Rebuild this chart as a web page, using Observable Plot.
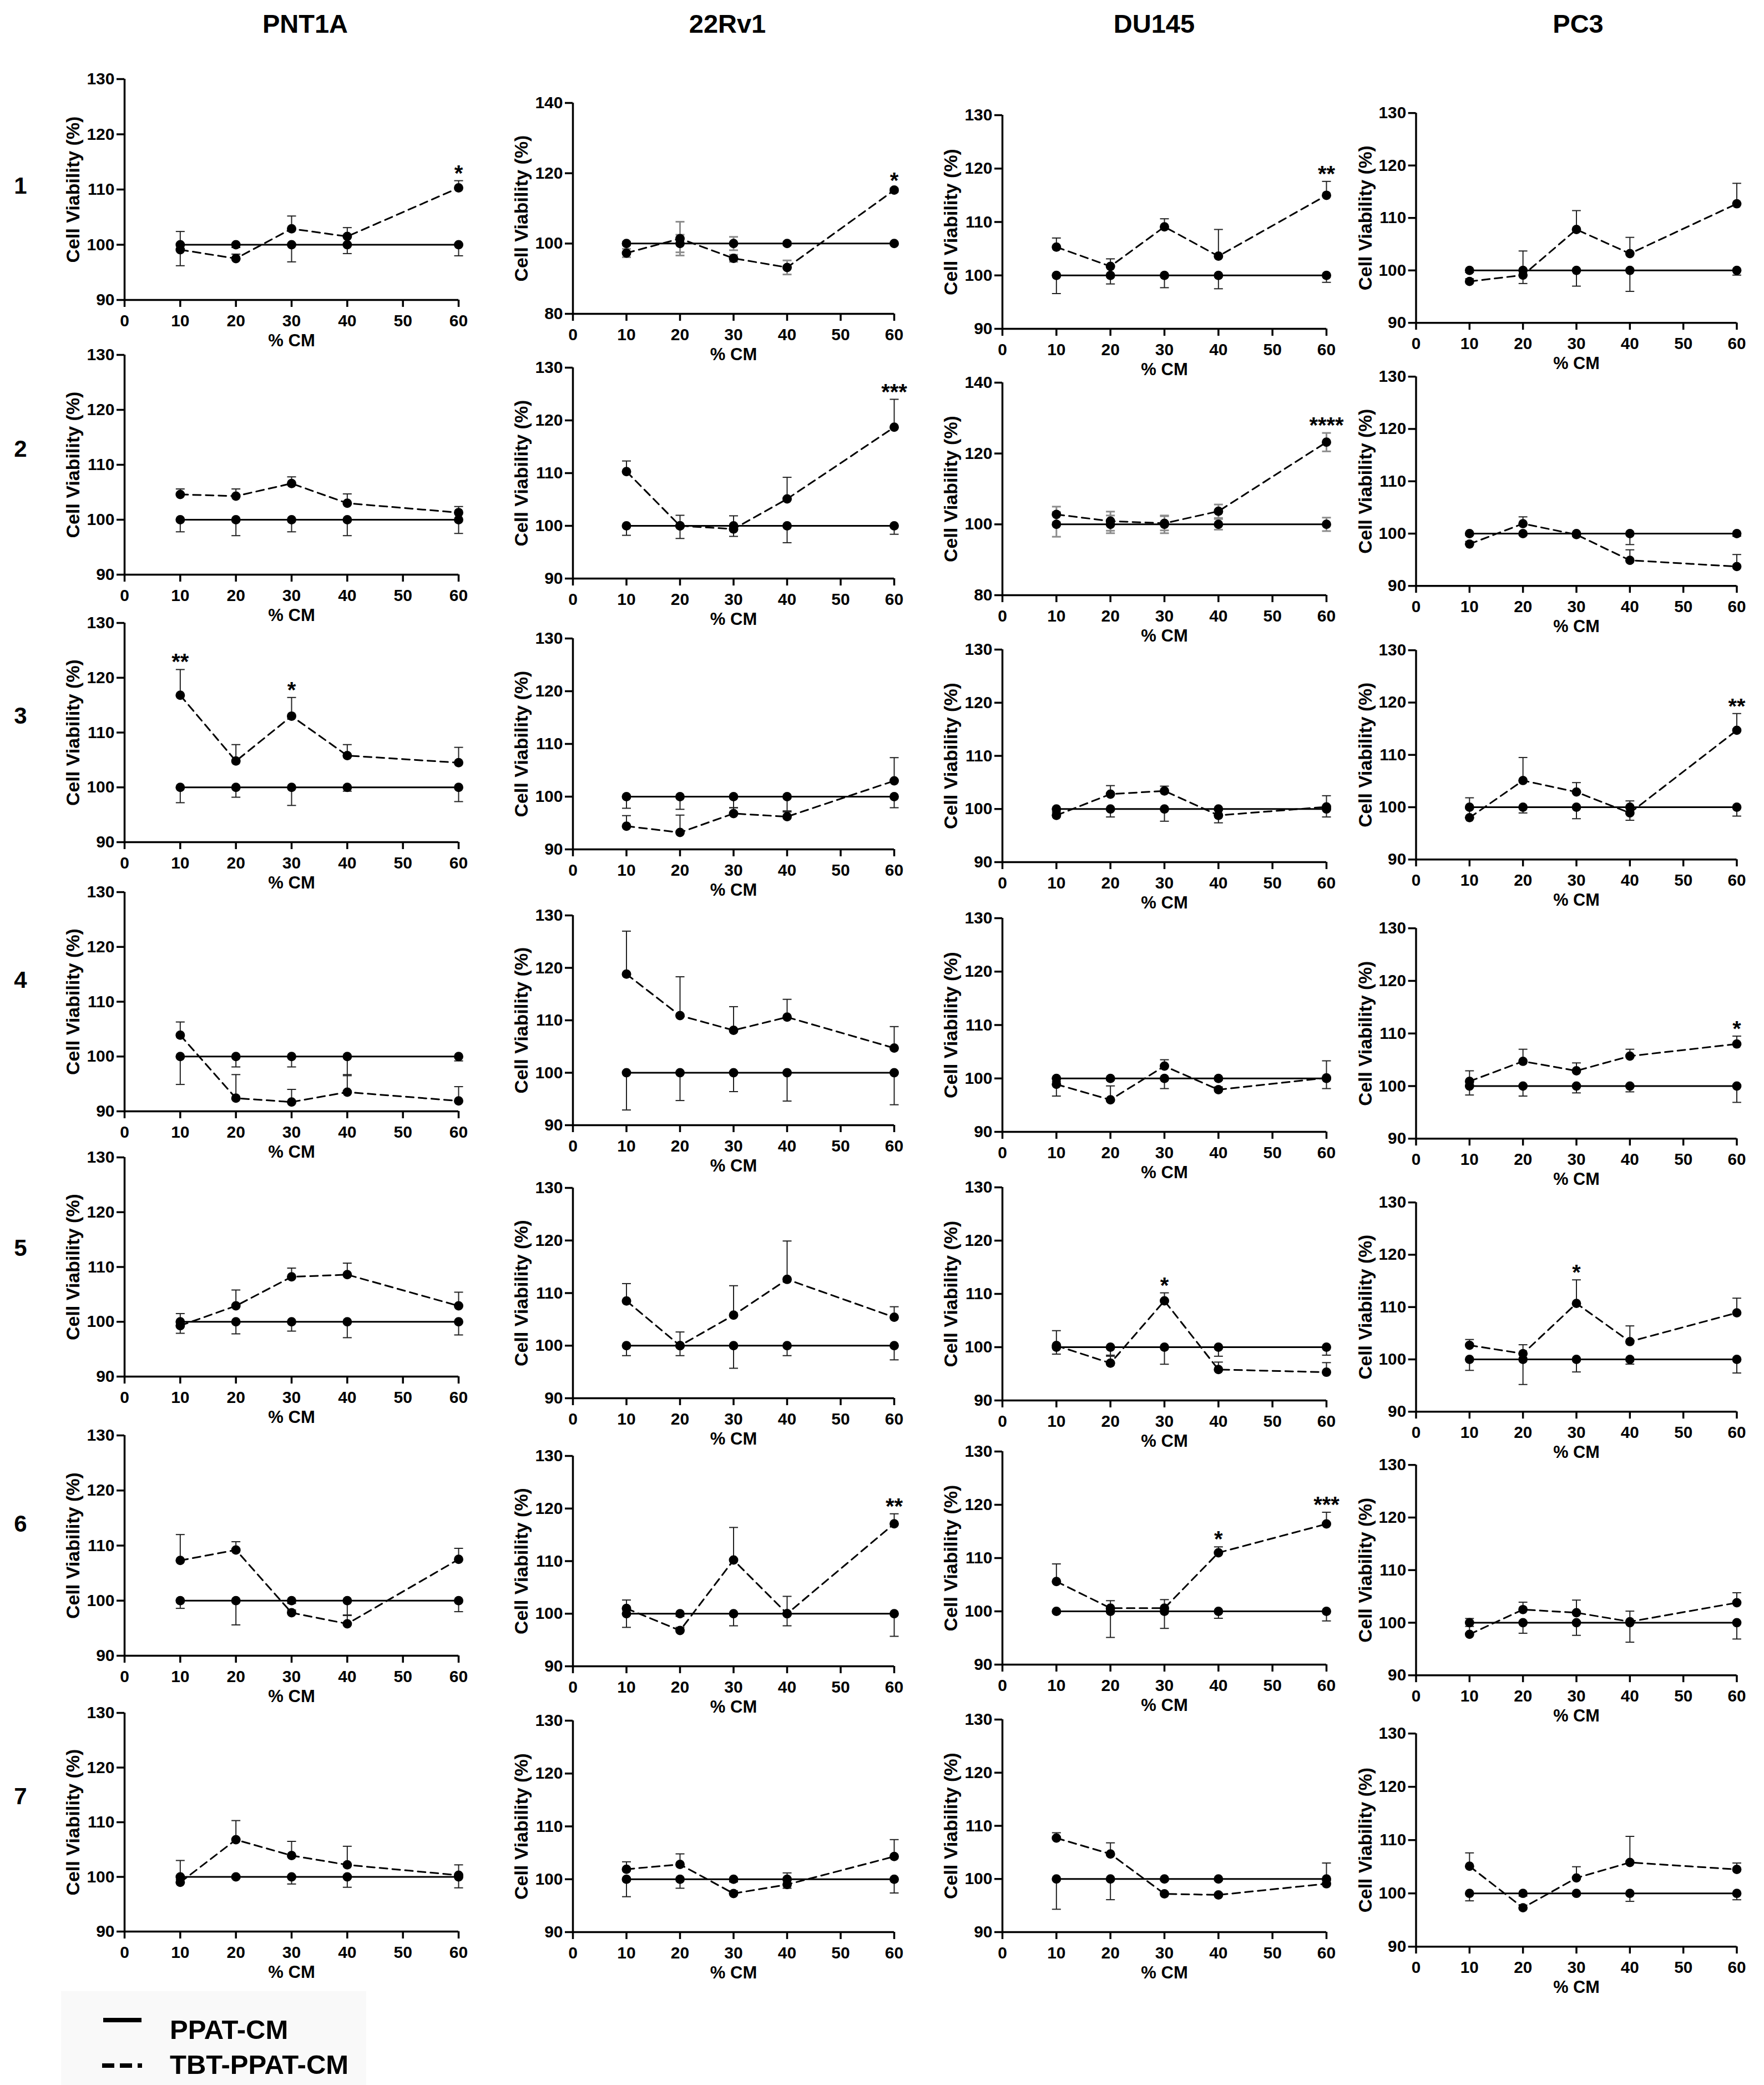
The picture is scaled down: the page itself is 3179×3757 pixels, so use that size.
<!DOCTYPE html>
<html>
<head>
<meta charset="utf-8">
<script src="https://cdn.jsdelivr.net/npm/d3@7"></script>
<script src="https://cdn.jsdelivr.net/npm/@observablehq/plot@0.6"></script>
<style>
  html, body { margin: 0; padding: 0; background: #ffffff; }
  #page { position: relative; width: 3179px; height: 3757px; background: #ffffff; overflow: hidden;
          font-family: "Liberation Sans", Arial, Helvetica, sans-serif; }
  .panel { position: absolute; }
  #overlay { position: absolute; left: 0; top: 0; }
</style>
</head>
<body>
<div id="page"></div>
<script>
// ---------------- DATA ----------------
const concentrations = [10, 20, 30, 40, 60];
const xTicks = [0, 10, 20, 30, 40, 50, 60];
const cellLines = ["PNT1A", "22Rv1", "DU145", "PC3"];
const conditions = ["1", "2", "3", "4", "5", "6", "7"];
const seriesNames = ["PPAT-CM", "TBT-PPAT-CM"];
const PPAT_MEAN = [100, 100, 100, 100, 100];

// PNT1A
const PNT1A_TBT = [
  [99.1, 97.5, 102.9, 101.5, 110.3],
  [104.6, 104.3, 106.6, 103.0, 101.3],
  [116.8, 104.8, 113.0, 105.8, 104.5],
  [103.9, 92.4, 91.7, 93.5, 91.9],
  [99.3, 102.9, 108.2, 108.6, 102.9],
  [107.3, 109.2, 97.8, 95.8, 107.5],
  [99.0, 106.8, 103.9, 102.2, 100.3]
];
const PNT1A_TBT_SD = [
  [3.3, 0.8, 2.3, 1.6, 1.3],
  [1.0, 1.3, 1.2, 1.7, 1.1],
  [4.7, 3.0, 3.4, 2.0, 2.8],
  [2.4, 4.3, 2.3, 3.2, 2.6],
  [2.2, 2.9, 1.6, 2.1, 2.5],
  [4.7, 1.5, 0.5, 1.5, 2.0],
  [4.0, 3.5, 2.6, 3.4, 1.9]
];
const PNT1A_PPAT_SD = [
  [3.8, 0.5, 3.1, 1.6, 2.0],
  [2.2, 2.9, 2.2, 2.9, 2.5],
  [2.8, 1.8, 3.3, 0.7, 2.6],
  [5.1, 1.9, 1.9, 3.5, 0.8],
  [2.1, 2.2, 1.7, 2.9, 2.4],
  [1.4, 4.4, 0.5, 2.6, 2.0],
  [0.5, 0.3, 1.3, 1.9, 2.0]
];
const PNT1A_SIG = [
  ["", "", "", "", "*"], ["", "", "", "", ""], ["**", "", "*", "", ""],
  ["", "", "", "", ""], ["", "", "", "", ""], ["", "", "", "", ""], ["", "", "", "", ""]
];
const PNT1A_Y = [[90, 130], [90, 130], [90, 130], [90, 130], [90, 130], [90, 130], [90, 130]];

// 22Rv1
const RV1_TBT = [
  [97.3, 101.4, 95.8, 93.2, 115.2],
  [110.3, 100.0, 99.4, 105.1, 118.7],
  [94.4, 93.2, 96.8, 96.2, 103.0],
  [118.8, 110.9, 108.1, 110.6, 104.7],
  [108.5, 100.0, 105.8, 112.6, 105.4],
  [101.0, 96.8, 110.2, 100.0, 117.1],
  [101.9, 102.8, 97.3, 99.0, 104.3]
];
const RV1_TBT_SD = [
  [1.2, 4.8, 1.0, 2.0, 0.5],
  [2.0, 2.0, 2.5, 4.1, 5.3],
  [2.0, 3.3, 1.1, 1.1, 4.4],
  [8.2, 7.4, 4.5, 3.4, 4.1],
  [3.3, 2.6, 5.6, 7.3, 2.0],
  [1.6, 0.6, 6.2, 3.3, 1.9],
  [1.4, 2.0, 0.5, 2.2, 3.2]
];
const RV1_PPAT_SD = [
  [0.5, 2.5, 1.9, 0.5, 0.3],
  [1.8, 2.4, 2.0, 3.2, 1.6],
  [2.2, 2.4, 2.1, 2.9, 2.1],
  [7.1, 5.3, 3.6, 5.4, 6.1],
  [1.9, 1.9, 4.3, 1.9, 2.7],
  [2.6, 0.5, 2.3, 2.3, 4.3],
  [3.3, 1.7, 0.5, 1.7, 2.6]
];
const RV1_SIG = [
  ["", "", "", "", "*"], ["", "", "", "", "***"], ["", "", "", "", ""],
  ["", "", "", "", ""], ["", "", "", "", ""], ["", "", "", "", "**"], ["", "", "", "", ""]
];
const RV1_Y = [[80, 140], [90, 130], [90, 130], [90, 130], [90, 130], [90, 130], [90, 130]];

// DU145
const DU145_TBT = [
  [105.3, 101.7, 109.1, 103.6, 115.0],
  [102.8, 100.9, 100.3, 103.7, 123.2],
  [98.8, 102.8, 103.4, 98.8, 100.4],
  [98.9, 96.0, 102.3, 97.9, 100.1],
  [100.3, 97.0, 108.7, 95.8, 95.3],
  [105.6, 100.6, 100.6, 111.0, 116.4],
  [107.7, 104.7, 97.2, 97.0, 99.1]
];
const DU145_TBT_SD = [
  [1.7, 1.4, 1.5, 5.0, 2.6],
  [2.2, 2.7, 2.0, 1.9, 2.6],
  [0.5, 1.6, 0.9, 1.0, 2.1],
  [0.5, 2.6, 1.2, 0.5, 3.2],
  [2.8, 1.3, 1.5, 1.4, 1.8],
  [3.3, 1.4, 1.6, 1.1, 2.2],
  [1.0, 2.1, 0.3, 0.3, 3.9]
];
const DU145_PPAT_SD = [
  [3.4, 1.6, 2.3, 2.5, 1.3],
  [3.5, 2.5, 2.5, 1.5, 1.9],
  [0.5, 1.5, 2.3, 2.6, 1.5],
  [3.3, 0.3, 1.9, 0.3, 1.9],
  [1.3, 1.5, 3.2, 1.7, 1.5],
  [0.3, 4.9, 3.2, 1.3, 1.8],
  [5.7, 3.9, 0.3, 0.3, 0.3]
];
const DU145_SIG = [
  ["", "", "", "", "**"], ["", "", "", "", "****"], ["", "", "", "", ""],
  ["", "", "", "", ""], ["", "", "*", "", ""], ["", "", "", "*", "***"], ["", "", "", "", ""]
];
const DU145_Y = [[90, 130], [80, 140], [90, 130], [90, 130], [90, 130], [90, 130], [90, 130]];

// PC3
const PC3_TBT = [
  [97.9, 99.1, 107.8, 103.2, 112.7],
  [98.0, 101.9, 99.8, 94.9, 93.7],
  [98.0, 105.1, 102.9, 98.9, 114.7],
  [100.9, 104.7, 102.9, 105.7, 108.0],
  [102.7, 101.1, 110.7, 103.4, 108.9],
  [97.8, 102.5, 101.9, 100.2, 103.8],
  [105.1, 97.3, 102.9, 105.8, 104.5]
];
const PC3_TBT_SD = [
  [0.5, 4.6, 3.6, 3.1, 3.9],
  [0.5, 1.3, 0.4, 2.0, 2.3],
  [3.8, 4.4, 1.8, 2.3, 3.2],
  [2.0, 2.3, 1.5, 1.3, 1.5],
  [1.1, 1.7, 4.5, 3.0, 2.8],
  [3.0, 1.4, 2.4, 2.0, 1.9],
  [2.5, 0.5, 2.1, 4.9, 1.2]
];
const PC3_PPAT_SD = [
  [0.4, 2.5, 3.0, 4.0, 0.9],
  [0.3, 0.3, 0.5, 2.1, 0.5],
  [0.3, 1.1, 2.2, 2.5, 1.7],
  [1.7, 1.9, 1.3, 1.1, 3.1],
  [2.1, 4.8, 2.4, 0.9, 2.6],
  [0.7, 2.0, 2.4, 3.7, 3.1],
  [1.4, 0.5, 0.3, 1.5, 1.2]
];
const PC3_SIG = [
  ["", "", "", "", ""], ["", "", "", "", ""], ["", "", "", "", "**"],
  ["", "", "", "", "*"], ["", "", "*", "", ""], ["", "", "", "", ""], ["", "", "", "", ""]
];
const PC3_Y = [[90, 130], [90, 130], [90, 130], [90, 130], [90, 130], [90, 130], [90, 130]];

// ---------------- LAYOUT & STYLE (positions, sizes, colours) ----------------
const FONT = '"Liberation Sans", Arial, Helvetica, sans-serif';
const COL_X = [[224, 826], [1032, 1611], [1806, 2390], [2553, 3137]];
const ROW_Y = [
  [[142, 540], [639, 1035], [1122, 1517], [1607, 2002], [2085, 2480], [2586, 2983], [3086, 3480]],
  [[185, 565], [662, 1042], [1150, 1530], [1649, 2027], [2140, 2519], [2623, 3002], [3100, 3481]],
  [[207, 592], [689, 1072], [1170, 1553], [1654, 2039], [2139, 2523], [2615, 2999], [3098, 3481]],
  [[204, 586], [679, 1060], [1172, 1553], [1673, 2056], [2167, 2548], [2640, 3023], [3124, 3512]]
];
const TITLE_X = [550, 1311, 2080, 2844];
const ROW_LABEL_Y = [334, 808, 1289, 1765, 2248, 2745, 3236];
const GREY_PANELS = ["22Rv1-1", "DU145-2"];

const TBT_BY_LINE = [PNT1A_TBT, RV1_TBT, DU145_TBT, PC3_TBT];
const TBT_SD_BY_LINE = [PNT1A_TBT_SD, RV1_TBT_SD, DU145_TBT_SD, PC3_TBT_SD];
const PPAT_SD_BY_LINE = [PNT1A_PPAT_SD, RV1_PPAT_SD, DU145_PPAT_SD, PC3_PPAT_SD];
const SIG_BY_LINE = [PNT1A_SIG, RV1_SIG, DU145_SIG, PC3_SIG];
const Y_BY_LINE = [PNT1A_Y, RV1_Y, DU145_Y, PC3_Y];

const capSymbol = {
  draw(context, size) {
    const r = Math.sqrt(size / Math.PI);
    context.moveTo(-r, 0);
    context.lineTo(r, 0);
  }
};

const page = document.getElementById("page");

function makePanel(ci, ri) {
  const [yMin, yMax] = Y_BY_LINE[ci][ri];
  const step = (yMax - yMin) > 40 ? 20 : 10;
  const yTicks = d3.range(yMin, yMax + 0.001, step);
  const tbtVals = TBT_BY_LINE[ci][ri];
  const tbtSd = TBT_SD_BY_LINE[ci][ri];
  const ppatSd = PPAT_SD_BY_LINE[ci][ri];
  const sig = SIG_BY_LINE[ci][ri];
  const grey = GREY_PANELS.includes(cellLines[ci] + "-" + conditions[ri]);

  const ppat = concentrations.map((x, i) => ({x, v: PPAT_MEAN[i], e: ppatSd[i]}));
  const tbt = concentrations.map((x, i) => ({x, v: tbtVals[i], e: tbtSd[i], s: sig[i]}));

  const [L, R] = COL_X[ci];
  const [T, B] = ROW_Y[ci][ri];
  const mL = 150, mR = 50, mT = 80, mB = 120;

  const errColor = grey ? "#8c8c8c" : "#222";
  const errW = grey ? 3 : 2;
  let errMarks;
  if (grey) {
    const both = ppat.concat(tbt);
    errMarks = [
      Plot.ruleX(both, {x: "x", y1: d => d.v - d.e, y2: d => d.v + d.e, stroke: errColor, strokeWidth: errW}),
      Plot.dot(both, {x: "x", y: d => d.v + d.e, symbol: capSymbol, r: 8, stroke: errColor, strokeWidth: errW, fill: "none"}),
      Plot.dot(both, {x: "x", y: d => d.v - d.e, symbol: capSymbol, r: 8, stroke: errColor, strokeWidth: errW, fill: "none"})
    ];
  } else {
    errMarks = [
      Plot.ruleX(ppat, {x: "x", y1: "v", y2: d => d.v - d.e, stroke: errColor, strokeWidth: errW}),
      Plot.dot(ppat, {x: "x", y: d => d.v - d.e, symbol: capSymbol, r: 8, stroke: errColor, strokeWidth: errW, fill: "none"}),
      Plot.ruleX(tbt, {x: "x", y1: "v", y2: d => d.v + d.e, stroke: errColor, strokeWidth: errW}),
      Plot.dot(tbt, {x: "x", y: d => d.v + d.e, symbol: capSymbol, r: 8, stroke: errColor, strokeWidth: errW, fill: "none"})
    ];
  }

  const svg = Plot.plot({
    width: (R - L) + mL + mR,
    height: (B - T) + mT + mB,
    marginLeft: mL, marginRight: mR, marginTop: mT, marginBottom: mB,
    x: {domain: [0, 60]},
    y: {domain: [yMin, yMax]},
    style: {fontFamily: FONT, fontWeight: "bold", color: "#000", background: "transparent", overflow: "visible"},
    marks: [
      Plot.axisY({ticks: yTicks, tickSize: 14, tickPadding: 4, fontSize: 30, strokeWidth: 3.5, label: null, tickFormat: d => String(d)}),
      Plot.axisX({ticks: xTicks, tickSize: 13, tickPadding: 13, fontSize: 30, strokeWidth: 3.5, label: null, tickFormat: d => String(d)}),
      Plot.ruleX([0], {y1: yMin, y2: yMax, strokeWidth: 3.5, stroke: "#000"}),
      Plot.ruleY([yMin], {x1: 0, x2: 60, strokeWidth: 3.5, stroke: "#000"}),
      Plot.text(["Cell Viability (%)"], {frameAnchor: "left", textAnchor: "middle", lineAnchor: "middle", dx: -92, rotate: -90, fontSize: 34, fontWeight: "bold", fill: "#000"}),
      Plot.text(["% CM"], {frameAnchor: "bottom", textAnchor: "middle", lineAnchor: "middle", dy: 74, fontSize: 31, fontWeight: "bold", fill: "#000"}),
      ...errMarks,
      Plot.line(ppat, {x: "x", y: "v", stroke: "#000", strokeWidth: 3}),
      Plot.line(tbt, {x: "x", y: "v", stroke: "#000", strokeWidth: 3, strokeDasharray: "14,9"}),
      Plot.dot(ppat, {x: "x", y: "v", r: 8.5, fill: "#000", stroke: "none"}),
      Plot.dot(tbt, {x: "x", y: "v", r: 8.5, fill: "#000", stroke: "none"}),
      Plot.text(tbt.filter(d => d.s), {x: "x", y: d => d.v + d.e, text: "s", lineAnchor: "bottom", dy: 0, fontSize: 40, fontWeight: "bold", fill: "#000"})
    ]
  });
  const div = document.createElement("div");
  div.className = "panel";
  div.style.left = (L - mL) + "px";
  div.style.top = (T - mT) + "px";
  div.appendChild(svg);
  page.appendChild(div);
}

for (let ci = 0; ci < cellLines.length; ci++) {
  for (let ri = 0; ri < conditions.length; ri++) makePanel(ci, ri);
}

// ---------------- Titles, row labels, legend ----------------
const NS = "http://www.w3.org/2000/svg";
const ov = document.createElementNS(NS, "svg");
ov.setAttribute("id", "overlay");
ov.setAttribute("width", 3179);
ov.setAttribute("height", 3757);
ov.style.fontFamily = FONT;
ov.style.fontWeight = "bold";
function addText(txt, x, y, size, anchor) {
  const t = document.createElementNS(NS, "text");
  t.setAttribute("x", x); t.setAttribute("y", y);
  t.setAttribute("font-size", size);
  t.setAttribute("text-anchor", anchor || "middle");
  t.setAttribute("fill", "#000");
  t.textContent = txt;
  ov.appendChild(t);
}
function addLine(x1, y1, x2, y2, w, dash) {
  const l = document.createElementNS(NS, "line");
  l.setAttribute("x1", x1); l.setAttribute("y1", y1);
  l.setAttribute("x2", x2); l.setAttribute("y2", y2);
  l.setAttribute("stroke", "#000"); l.setAttribute("stroke-width", w);
  if (dash) l.setAttribute("stroke-dasharray", dash);
  ov.appendChild(l);
}
const bg = document.createElementNS(NS, "rect");
bg.setAttribute("x", 110); bg.setAttribute("y", 3588);
bg.setAttribute("width", 550); bg.setAttribute("height", 175);
bg.setAttribute("fill", "#f9f9f9");
ov.appendChild(bg);

cellLines.forEach((c, i) => addText(c, TITLE_X[i], 59, 47));
conditions.forEach((c, i) => addText(c, 37, ROW_LABEL_Y[i] + 15, 42));

addLine(186, 3640, 255, 3640, 8);
addText(seriesNames[0], 306, 3674, 49, "start");
addLine(184, 3722, 256, 3722, 8, "22,10");
addText(seriesNames[1], 306, 3737, 49, "start");
page.appendChild(ov);
</script>
</body>
</html>
